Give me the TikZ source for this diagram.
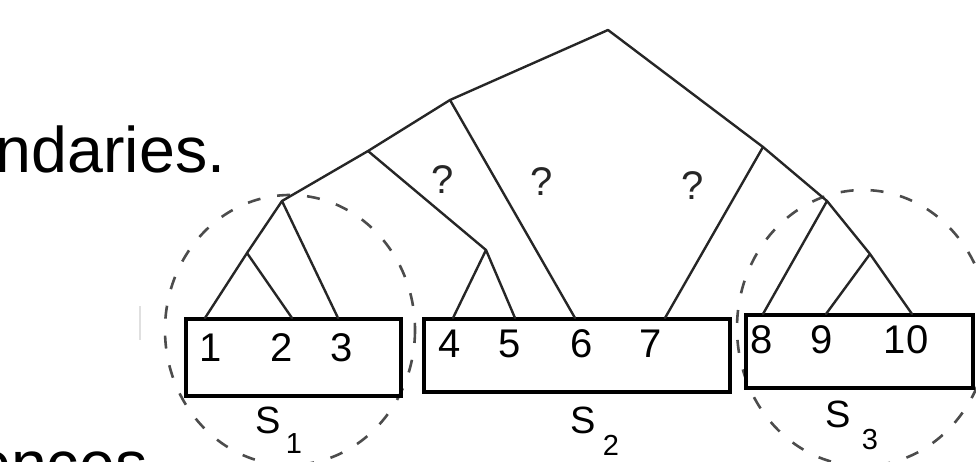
\documentclass[tikz,border=0pt]{standalone}
\usepackage{fontspec}
\setmainfont{Liberation Sans}
\begin{document}
\begin{tikzpicture}[x=1pt,y=-1pt,
  edge/.style={line width=2.4pt, draw=black!85, line cap=round, line join=round},
  segbox/.style={line width=4pt, draw=black},
  grp/.style={line width=2.6pt, draw=black!70, dash pattern=on 13pt off 17pt},
  leaf/.style={font=\fontsize{40}{48}\selectfont, anchor=base, inner sep=0pt},
  qmark/.style={font=\fontsize{40}{48}\selectfont, anchor=base, inner sep=0pt, text=black!85},
  slab/.style={font=\fontsize{38}{46}\selectfont, anchor=base, inner sep=0pt},
  sublab/.style={font=\fontsize{29}{35}\selectfont, anchor=base, inner sep=0pt},
  bigtext/.style={font=\fontsize{64.5}{77}\selectfont, anchor=base west, inner sep=0pt}]
\useasboundingbox (0,0) rectangle (976,461);
\clip (0,0) rectangle (976,461);

% slide text fragments
\node[bigtext] (txtA) at (-4.3,172) {ndaries.};
\node[bigtext] (txtB) at (-25,486) {ences};

% faint remnant
\draw[line width=2pt, draw=black!12] (140,306) -- (140,340);

% group ellipses
\draw[grp] (290,330) ellipse [x radius=125, y radius=135];
\draw[grp] (863,328) ellipse [x radius=126, y radius=138];

% segment boxes
\draw[segbox] (186,319) rectangle (401,396);
\draw[segbox] (424,319) rectangle (730,392);
\draw[segbox] (746,315) rectangle (973,388);

% tree nodes
\coordinate (r) at (608,30);
\coordinate (a) at (450,100);
\coordinate (b) at (368,151);
\coordinate (c) at (282,201);
\coordinate (d) at (247,253);
\coordinate (e) at (486,250);
\coordinate (f) at (763,147);
\coordinate (g) at (827,201);
\coordinate (h) at (870,254);
\coordinate (t1) at (205,318);
\coordinate (t2) at (292,318);
\coordinate (t3) at (338,318);
\coordinate (t4) at (453,318);
\coordinate (t5) at (515,318);
\coordinate (t6) at (575,318);
\coordinate (t7) at (665,318);
\coordinate (t8) at (763,314);
\coordinate (t9) at (826,314);
\coordinate (t10) at (912,314);

\draw[edge] (t1) -- (d) -- (c) -- (b) -- (a) -- (r) -- (f) -- (g) -- (h) -- (t10);
\draw[edge] (d) -- (t2);
\draw[edge] (c) -- (t3);
\draw[edge] (b) -- (e) -- (t4);
\draw[edge] (e) -- (t5);
\draw[edge] (a) -- (t6);
\draw[edge] (f) -- (t7);
\draw[edge] (g) -- (t8);
\draw[edge] (h) -- (t9);

% leaf labels
\node[leaf] (l1) at (211,361) {1};
\node[leaf] (l2) at (282,361) {2};
\node[leaf] (l3) at (342,361) {3};
\node[leaf] (l4) at (450,357) {4};
\node[leaf] (l5) at (510,357) {5};
\node[leaf] (l6) at (582,357) {6};
\node[leaf] (l7) at (651,357) {7};
\node[leaf] (l8) at (762,353) {8};
\node[leaf] (l9) at (822,353) {9};
\node[leaf] (l10) at (906,353) {10};

% question marks
\node[qmark] (q1) at (443,193) {?};
\node[qmark] (q2) at (542,195) {?};
\node[qmark] (q3) at (693,199) {?};

% segment labels
\node[slab] (s1) at (268,433) {S};
\node[sublab] (s1i) at (294,453) {1};
\node[slab] (s2) at (583,433) {S};
\node[sublab] (s2i) at (611,455) {2};
\node[slab] (s3) at (838,427) {S};
\node[sublab] (s3i) at (870,449) {3};
\end{tikzpicture}
\end{document}
